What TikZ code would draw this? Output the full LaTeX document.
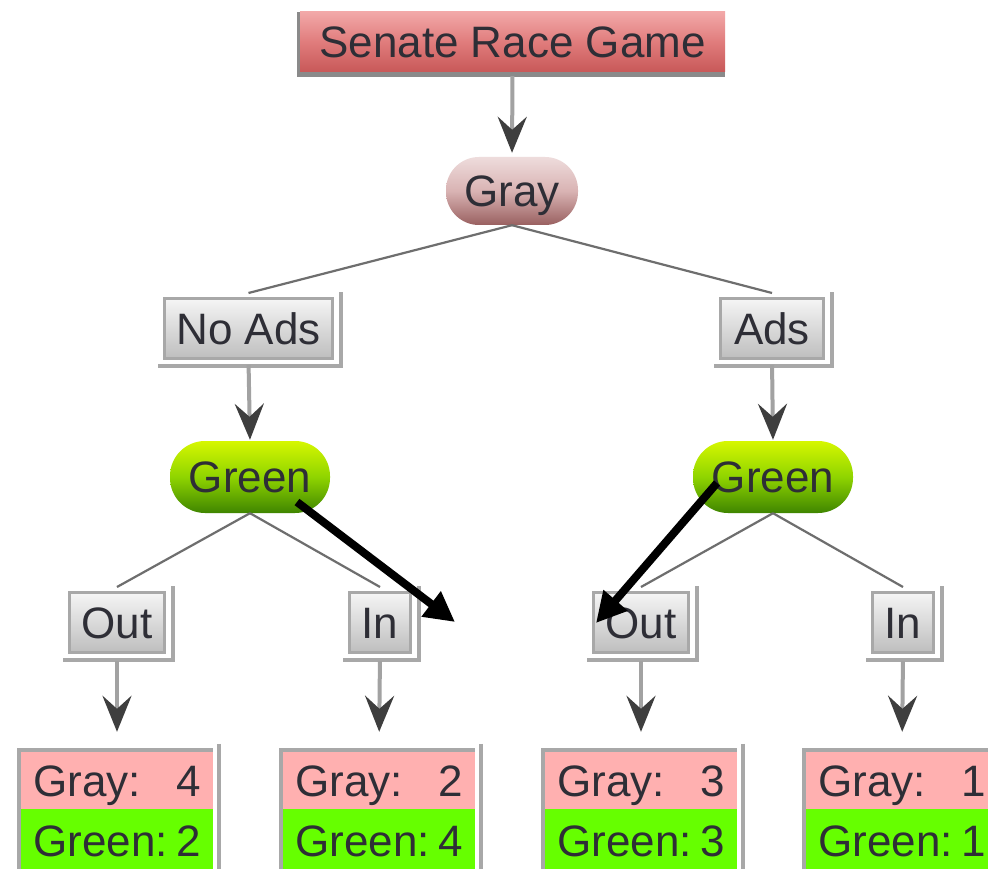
\documentclass[tikz,border=0pt]{standalone}
\usepackage{fontspec}
\setmainfont{Liberation Sans}
\usetikzlibrary{arrows.meta}
\definecolor{boxgray}{HTML}{A8A8A8}
\definecolor{shaftgray}{HTML}{A2A2A2}
\definecolor{headgray}{HTML}{3E3E3E}
\definecolor{linegray}{HTML}{6E6E6E}
\definecolor{paypink}{HTML}{FFB0B0}
\definecolor{paygreen}{HTML}{66FF00}
\definecolor{txt}{HTML}{2E2E36}
\definecolor{titleedge}{HTML}{8A8A8A}
\definecolor{titletop}{HTML}{F2A8A8}
\definecolor{titlemid}{HTML}{E07C7C}
\definecolor{titlebot}{HTML}{C85858}
\definecolor{graytop}{HTML}{EEDCDC}
\definecolor{graymid}{HTML}{D9B3B3}
\definecolor{graybot}{HTML}{996060}
\definecolor{greentop}{HTML}{D6F700}
\definecolor{greenmid}{HTML}{8FD400}
\definecolor{greenbot}{HTML}{3F8500}
\definecolor{opttop}{HTML}{F5F5F5}
\definecolor{optbot}{HTML}{BEBEBE}
\tikzset{
  lbl/.style={font=\fontsize{44}{50}\selectfont, text=txt, text height=31pt, text depth=0pt, inner sep=0pt},
  titlebox/.style={lbl, minimum width=425pt, minimum height=60pt, top color=titletop, bottom color=titlebot, middle color=titlemid},
  graychance/.style={lbl, minimum width=132pt, minimum height=68pt, rounded corners=33pt, top color=graytop, bottom color=graybot, middle color=graymid},
  greenchance/.style={lbl, minimum width=160pt, minimum height=72pt, rounded corners=35pt, top color=greentop, bottom color=greenbot, middle color=greenmid},
  optbox/.style={lbl, draw=boxgray, line width=3pt, minimum height=60pt, top color=opttop, bottom color=optbot},
  frameline/.style={draw=boxgray, line width=4pt},
  shaft/.style={draw=shaftgray, line width=4pt, -{Stealth[length=36pt, width=29pt, inset=13pt, color=headgray]}},
  branch/.style={draw=linegray, line width=2.2pt},
  paypk/.style={lbl, fill=paypink, minimum width=192pt, minimum height=57pt},
  paygn/.style={lbl, fill=paygreen, minimum width=192pt, minimum height=64pt},
  payline/.style={draw=boxgray, line width=4pt},
  annot/.style={draw=black, line width=8pt, -{Triangle[length=30pt, width=30pt]}}
}
\newcommand\optframe[1]{%
  \draw[frameline] ([shift={(7pt,5pt)}]#1.north east) -- ([shift={(7pt,-8pt)}]#1.south east);
  \draw[frameline] ([shift={(-5pt,-6pt)}]#1.south west) -- ([shift={(9pt,-6pt)}]#1.south east);}
\newcommand\payframe[2]{%
  \draw[payline] ([xshift=-2pt]#2.south west) -- ([shift={(-2pt,2pt)}]#1.north west) -- ([yshift=2pt]#1.north east);
  \draw[payline] ([shift={(6pt,8pt)}]#1.north east) -- ([xshift=6pt]#2.south east);}
\begin{document}
\begin{tikzpicture}[x=1pt,y=-1pt]
\fill[white] (0,0) rectangle (988,869);
\useasboundingbox (0,0) rectangle (988,869);

% title
\node[titlebox] (title) at (512.5,42) {Senate Race Game};
\fill[titleedge] ([xshift=-3pt]title.north west) rectangle (title.south west);
\fill[titleedge] ([xshift=-3pt]title.south west) rectangle ([yshift=-5pt]title.south east);

% chance / decision nodes
\node[graychance] (gray) at (512,191) {Gray};
\node[optbox, minimum width=168pt] (noads) at (248.5,328.5) {No Ads};
\node[optbox, minimum width=103pt] (ads) at (772,328.5) {Ads};
\optframe{noads}
\optframe{ads}
\node[greenchance] (greenA) at (250,477) {Green};
\node[greenchance] (greenB) at (773,477) {Green};
\node[optbox, minimum width=95pt] (outA) at (117,622.5) {Out};
\node[optbox, minimum width=61pt] (inA) at (380,622.5) {In};
\node[optbox, minimum width=95pt] (outB) at (641,622.5) {Out};
\node[optbox, minimum width=61pt] (inB) at (903,622.5) {In};
\optframe{outA}
\optframe{inA}
\optframe{outB}
\optframe{inB}

% payoffs
\node[paypk] (pA) at (117,780.5) {\makebox[167pt]{Gray:\hfill 4}};
\node[paygn, anchor=north] (gA) at (pA.south) {\makebox[167pt]{Green:\hfill 2}};
\node[paypk] (pB) at (379,780.5) {\makebox[167pt]{Gray:\hfill 2}};
\node[paygn, anchor=north] (gB) at (pB.south) {\makebox[167pt]{Green:\hfill 4}};
\node[paypk] (pC) at (641,780.5) {\makebox[167pt]{Gray:\hfill 3}};
\node[paygn, anchor=north] (gC) at (pC.south) {\makebox[167pt]{Green:\hfill 3}};
\node[paypk] (pD) at (902,780.5) {\makebox[167pt]{Gray:\hfill 1}};
\node[paygn, anchor=north] (gD) at (pD.south) {\makebox[167pt]{Green:\hfill 1}};
\payframe{pA}{gA}
\payframe{pB}{gB}
\payframe{pC}{gC}
\payframe{pD}{gD}

% arrows with heads
\draw[shaft, shorten <=4pt, shorten >=4pt] (title.south) -- (gray.north);
\draw[shaft, shorten <=5pt, shorten >=1pt] (noads.south) -- (greenA.north);
\draw[shaft, shorten <=5pt, shorten >=1pt] (ads.south) -- (greenB.north);
\draw[shaft, shorten <=7pt, shorten >=20pt] (outA.south) -- (pA.north);
\draw[shaft, shorten <=7pt, shorten >=20pt] (inA.south) -- (pB.north);
\draw[shaft, shorten <=7pt, shorten >=20pt] (outB.south) -- (pC.north);
\draw[shaft, shorten <=7pt, shorten >=20pt] (inB.south) -- (pD.north);

% branch lines
\draw[branch] (gray.south) -- ([yshift=4pt]noads.north);
\draw[branch] (gray.south) -- ([yshift=4pt]ads.north);
\draw[branch] (greenA.south) -- ([yshift=4pt]outA.north);
\draw[branch] (greenA.south) -- ([yshift=4pt]inA.north);
\draw[branch] (greenB.south) -- ([yshift=4pt]outB.north);
\draw[branch] (greenB.south) -- ([yshift=4pt]inB.north);

% annotation arrows
\coordinate (freeend) at (455,622);
\draw[annot] ([shift={(47,25)}]greenA.center) -- (freeend);
\draw[annot] ([shift={(-56,6)}]greenB.center) -- ([shift={(-45,0.5)}]outB.center);
\end{tikzpicture}
\end{document}
